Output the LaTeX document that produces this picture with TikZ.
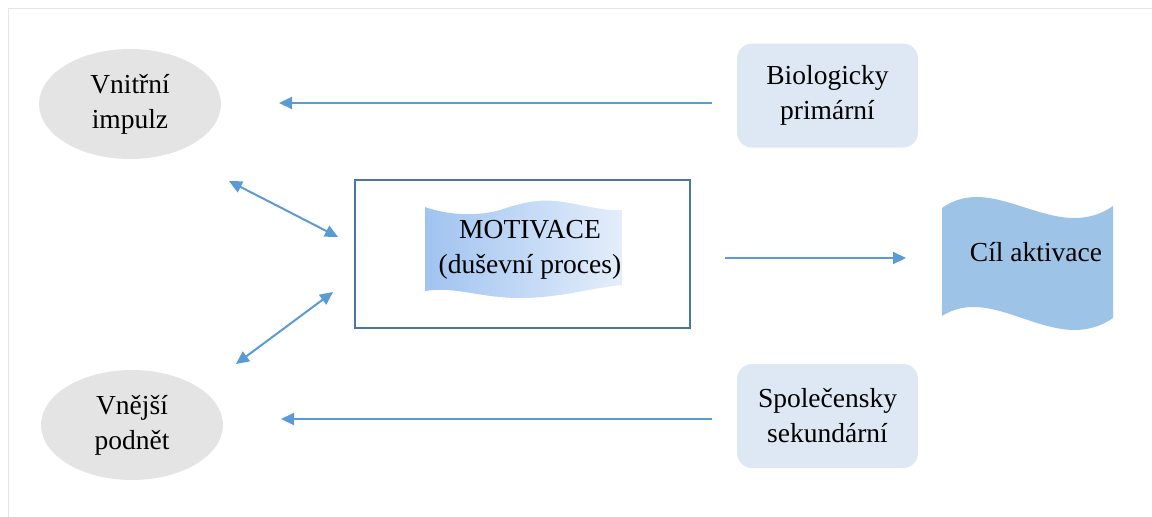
\documentclass[tikz,border=0pt]{standalone}
\usepackage{fontspec}
\setmainfont{Liberation Serif}
\usetikzlibrary{arrows.meta,shapes.geometric}
\definecolor{arrowblue}{HTML}{5B9BD5}
\definecolor{framegray}{HTML}{E6E6E6}
\definecolor{ellgray}{HTML}{E4E4E4}
\definecolor{boxblue}{HTML}{DDE8F4}
\definecolor{rectblue}{HTML}{4A76A3}
\definecolor{waveL}{HTML}{A0C3F0}
\definecolor{waveR}{HTML}{E4EEFB}
\definecolor{goalblue}{HTML}{9DC3E6}
\tikzset{
  txt/.style={font=\fontsize{27.5}{35}\selectfont, align=center, text=black},
  ell/.style={ellipse, fill=ellgray, minimum width=182pt, minimum height=110pt, inner sep=0pt, txt},
  rbox/.style={rectangle, rounded corners=15pt, fill=boxblue, minimum width=181pt, minimum height=104pt, inner sep=0pt, txt},
  conn/.style={draw=arrowblue, line width=2pt, -{Triangle[length=13pt,width=12pt]}},
  dconn/.style={draw=arrowblue, line width=2pt, {Triangle[length=13pt,width=12pt]}-{Triangle[length=13pt,width=12pt]}}
}
\begin{document}
\begin{tikzpicture}[x=1pt,y=-1pt]
\useasboundingbox (0,0) rectangle (1152,517);
% frame
\draw[framegray, line width=1pt] (8,517) -- (8,8) -- (1152,8);
% ellipses
\node[ell] (vnitr) at (130,104) {Vnitřní\\impulz};
\node[ell] (vnej) at (132,425) {Vnější\\podnět};
% rounded boxes
\node[rbox] (bio) at (827.5,95.5) {Biologicky\\primární};
\node[rbox] (spol) at (827.5,416) {Společensky\\sekundární};
% motivation rectangle
\node[draw=rectblue, line width=1.6pt, minimum width=335pt, minimum height=148pt, inner sep=0pt] (motrect) at (522.5,254) {};
% wave with gradient
\shade[left color=waveL, right color=waveR]
  (425,207) .. controls (450,216) and (480,216) .. (500,210)
  .. controls (530,200) and (545,198) .. (575,204)
  .. controls (595,208) and (610,211) .. (622,210)
  -- (622,285) .. controls (590,288) and (560,298) .. (520,298)
  .. controls (480,298) and (455,286) .. (425,291) -- cycle;
\node[txt] (mot) at (530,250) {MOTIVACE\\(duševní proces)};
% goal wave
\fill[goalblue]
  (942,208) .. controls (995,170) and (1055,246) .. (1113,206)
  -- (1113,318) .. controls (1055,358) and (995,282) .. (942,316) -- cycle;
\node[txt] (cil) at (1036,252) {Cíl aktivace};
% connector endpoints
\coordinate (a1s) at (712,103);
\coordinate (a1e) at (279,103);
\coordinate (a2s) at (712,419);
\coordinate (a2e) at (281,419);
\coordinate (a3s) at (725,258);
\coordinate (a3e) at (906,258);
\coordinate (d1a) at (229,181);
\coordinate (d1b) at (338,237);
\coordinate (d2a) at (236,364);
\coordinate (d2b) at (333,292);
\draw[conn] (a1s) -- (a1e);
\draw[conn] (a2s) -- (a2e);
\draw[conn] (a3s) -- (a3e);
\draw[dconn] (d1a) -- (d1b);
\draw[dconn] (d2a) -- (d2b);
\end{tikzpicture}
\end{document}
